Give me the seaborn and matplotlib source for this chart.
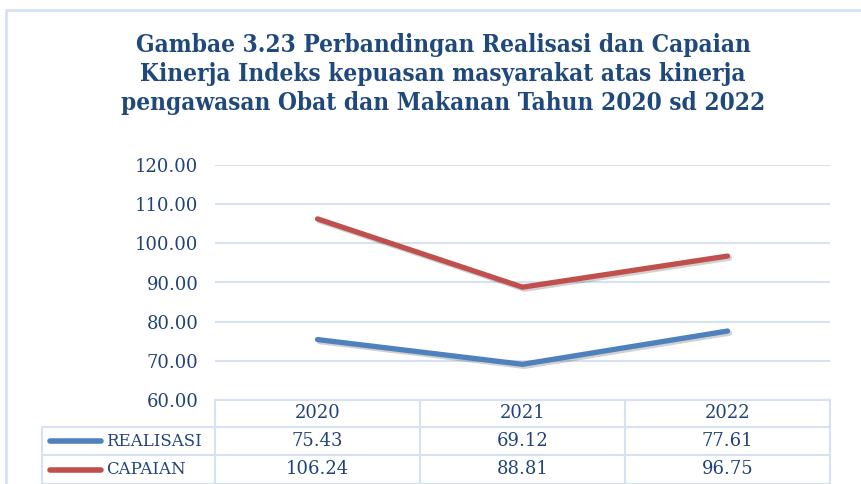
import matplotlib
matplotlib.use("Agg")
import matplotlib.pyplot as plt
import matplotlib.patheffects as pe
from matplotlib.lines import Line2D
import seaborn as sns
import pandas as pd

years = ["2020", "2021", "2022"]
realisasi = [75.43, 69.12, 77.61]
capaian = [106.24, 88.81, 96.75]
series_names = ["REALISASI", "CAPAIAN"]
yticks = [60, 70, 80, 90, 100, 110, 120]
title = ("Gambae 3.23 Perbandingan Realisasi dan Capaian\n"
         "Kinerja Indeks kepuasan masyarakat atas kinerja\n"
         "pengawasan Obat dan Makanan Tahun 2020 sd 2022")

sns.set_theme(style="white")
plt.rcParams['font.family'] = ['DejaVu Serif']

W, H = 862, 484
fig = plt.figure(figsize=(W / 100, H / 100), dpi=100)
fig.patch.set_facecolor("white")

def fx(px):
    return px / W

def fy(py):
    return 1 - py / H

ax = fig.add_axes([fx(215), fy(400), fx(830) - fx(215), fy(165) - fy(400)])

df = pd.DataFrame({
    "year": years * 2,
    "x": [0, 1, 2] * 2,
    "value": realisasi + capaian,
    "series": [series_names[0]] * 3 + [series_names[1]] * 3,
})
colors = {"REALISASI": "#4F81BD", "CAPAIAN": "#C0504D"}
text_color = "#22437A"
grid_color = "#D6E2F2"

sns.lineplot(data=df, x="x", y="value", hue="series", palette=colors, ax=ax,
             linewidth=3.8, legend=False, sort=False)
for ln in ax.get_lines():
    ln.set_solid_capstyle("round")
    ln.set_path_effects([pe.SimpleLineShadow(offset=(1.5, -1.5), alpha=0.18, shadow_color="black"), pe.Normal()])

ax.set_xlim(-0.5, 2.5)
ax.set_ylim(60, 120)
ax.set_yticks(yticks)
ax.set_yticklabels([f"{v:.2f}" for v in yticks], color=text_color, fontsize=13)
ax.tick_params(axis="y", length=0, pad=12)
ax.set_xticks([])
ax.set_xlabel("")
ax.set_ylabel("")
for s in ax.spines.values():
    s.set_visible(False)
ax.yaxis.grid(True, color=grid_color, linewidth=1.5)
ax.set_axisbelow(True)

# figure border (top and left)
fig.add_artist(Line2D([fx(6), fx(6)], [fy(10), 0], color="#D6E2F2", lw=2))
fig.add_artist(Line2D([fx(6), 1], [fy(10), fy(10)], color="#D6E2F2", lw=2))

# title
fig.text(fx(443), fy(74), title, ha="center", va="center", fontsize=17.5,
         fontweight="bold", color="#1F497D", linespacing=1.28, fontstretch="condensed")

# data table
tl = "#D6E2F2"
col_edges = [215, 420, 625, 830]
row_edges = [400, 427, 455, 484]
lw = 1.5
fig.add_artist(Line2D([fx(215), fx(830)], [fy(400), fy(400)], color=tl, lw=lw))
for r in row_edges[1:]:
    fig.add_artist(Line2D([fx(42), fx(830)], [fy(r), fy(r)], color=tl, lw=lw))
for c in col_edges:
    fig.add_artist(Line2D([fx(c), fx(c)], [fy(400), 0], color=tl, lw=lw))
fig.add_artist(Line2D([fx(42), fx(42)], [fy(427), 0], color=tl, lw=lw))

centers = [(col_edges[i] + col_edges[i + 1]) / 2 for i in range(3)]
for i, yr in enumerate(years):
    fig.text(fx(centers[i]), fy(413), yr, ha="center", va="center", color=text_color, fontsize=13)
for r, (name, vals) in enumerate(zip(series_names, [realisasi, capaian])):
    yc = (row_edges[r + 1] + row_edges[r + 2]) / 2
    fig.add_artist(Line2D([fx(50), fx(101)], [fy(yc), fy(yc)], color=colors[name], lw=4,
                          solid_capstyle="round"))
    fig.text(fx(106), fy(yc), name, ha="left", va="center", color=text_color, fontsize=12)
    for i, v in enumerate(vals):
        fig.text(fx(centers[i]), fy(yc), f"{v:.2f}", ha="center", va="center",
                 color=text_color, fontsize=13)

fig.savefig("out.png", dpi=100)
